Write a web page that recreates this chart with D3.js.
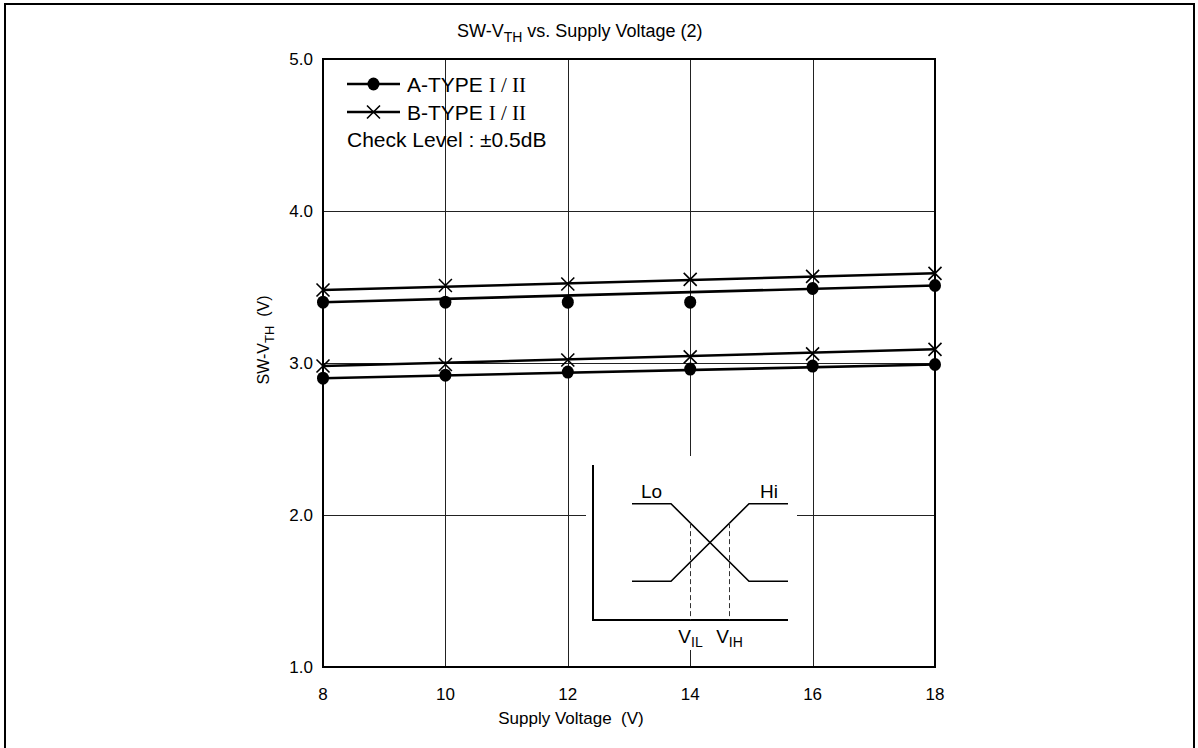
<!DOCTYPE html>
<html>
<head>
<meta charset="utf-8">
<script src="https://cdn.jsdelivr.net/npm/d3@7"></script>
<style>
  body { margin: 0; background: #fff; }
  text { font-family: "Liberation Sans", Arial, sans-serif; fill: #000; }
</style>
</head>
<body>
<div id="chart"></div>
<script>
// supply voltage points (V)
const voltages = [8, 10, 12, 14, 16, 18];

// measured SW-VTH markers (V)
const aTypeHigh = [3.40, 3.40, 3.40, 3.40, 3.49, 3.51];
const aTypeLow = [2.90, 2.92, 2.94, 2.96, 2.98, 2.99];
const bTypeHigh = [3.48, 3.51, 3.52, 3.55, 3.57, 3.59];
const bTypeLow = [2.98, 2.99, 3.02, 3.04, 3.06, 3.09];

// straight trend lines: value at 8 V and at 18 V
const lineEnds = [8, 18];
const aTypeHighLine = [3.40, 3.51];
const aTypeLowLine = [2.90, 2.99];
const bTypeHighLine = [3.48, 3.59];
const bTypeLowLine = [2.98, 3.09];

const xTicks = [8, 10, 12, 14, 16, 18];
const yTicks = [1.0, 2.0, 3.0, 4.0, 5.0];

// inset schematic (unitless 0..10 box)
const insetLo = [[2, 7.5], [4, 7.5], [8, 2.5], [10, 2.5]];
const insetHi = [[2, 2.5], [4, 2.5], [8, 7.5], [10, 7.5]];
const insetMarks = [{ x: 5, top: 6.25, sub: "IL" }, { x: 7, top: 6.25, sub: "IH" }];

const W = 1198, H = 748;
const svg = d3.select("#chart").append("svg")
    .attr("width", W)
    .attr("height", H);

// outer frame (bottom runs off the page)
svg.append("rect")
    .attr("x", 5).attr("y", 4)
    .attr("width", 1189).attr("height", 760)
    .attr("fill", "none")
    .attr("stroke", "#000")
    .attr("stroke-width", 2);

const x = d3.scaleLinear().domain([8, 18]).range([323, 935]);
const y = d3.scaleLinear().domain([1, 5]).range([667, 59]);

// grid
svg.append("g")
    .selectAll("line")
    .data(xTicks.slice(1, -1))
    .join("line")
    .attr("x1", d => Math.round(x(d)) + 0.5)
    .attr("x2", d => Math.round(x(d)) + 0.5)
    .attr("y1", y(5)).attr("y2", y(1))
    .attr("stroke", "#222").attr("stroke-width", 1);

svg.append("g")
    .selectAll("line")
    .data(yTicks.slice(1, -1))
    .join("line")
    .attr("y1", d => Math.round(y(d)) + 0.5)
    .attr("y2", d => Math.round(y(d)) + 0.5)
    .attr("x1", x(8)).attr("x2", x(18))
    .attr("stroke", "#222").attr("stroke-width", 1);

// plot frame
svg.append("rect")
    .attr("x", x(8)).attr("y", y(5))
    .attr("width", x(18) - x(8)).attr("height", y(1) - y(5))
    .attr("fill", "none")
    .attr("stroke", "#000")
    .attr("stroke-width", 2);

// tick labels
svg.append("g")
    .selectAll("text")
    .data(xTicks)
    .join("text")
    .attr("x", d => x(d))
    .attr("y", 700)
    .attr("text-anchor", "middle")
    .attr("font-size", "17px")
    .text(d => d);

svg.append("g")
    .selectAll("text")
    .data(yTicks)
    .join("text")
    .attr("x", 313)
    .attr("y", d => y(d))
    .attr("dy", "0.35em")
    .attr("text-anchor", "end")
    .attr("font-size", "17px")
    .text(d => d3.format(".1f")(d));

// axis titles
svg.append("text")
    .attr("x", 571)
    .attr("y", 724)
    .attr("text-anchor", "middle")
    .attr("font-size", "17px")
    .attr("xml:space", "preserve")
    .text("Supply Voltage  (V)");

const yl = svg.append("text")
    .attr("transform", "translate(269,340) rotate(-90)")
    .attr("text-anchor", "middle")
    .attr("font-size", "16px")
    .attr("xml:space", "preserve");
yl.append("tspan").text("SW-V");
yl.append("tspan").attr("dy", 5).attr("font-size", "13px").text("TH");
yl.append("tspan").attr("dy", -5).text("  (V)");

// title
const tt = svg.append("text")
    .attr("x", 457)
    .attr("y", 37)
    .attr("font-size", "18px");
tt.append("tspan").text("SW-V");
tt.append("tspan").attr("dy", 5).attr("font-size", "14px").text("TH");
tt.append("tspan").attr("dy", -5).text(" vs. Supply Voltage (2)");

// series
const series = [
    { vals: aTypeHigh, line: aTypeHighLine, mark: "dot" },
    { vals: aTypeLow, line: aTypeLowLine, mark: "dot" },
    { vals: bTypeHigh, line: bTypeHighLine, mark: "cross" },
    { vals: bTypeLow, line: bTypeLowLine, mark: "cross" }
];

const line = d3.line().x(d => x(d[0])).y(d => y(d[1]));

function drawMark(g, mark, cx, cy) {
    if (mark === "dot") {
        g.append("ellipse")
            .attr("cx", cx).attr("cy", cy)
            .attr("rx", 6).attr("ry", 6.5)
            .attr("fill", "#000");
    } else {
        const s = 6.5;
        g.append("path")
            .attr("d", `M${cx - s},${cy - s}L${cx + s},${cy + s}M${cx - s},${cy + s}L${cx + s},${cy - s}`)
            .attr("stroke", "#000")
            .attr("stroke-width", 1.6)
            .attr("fill", "none");
    }
}

series.forEach(s => {
    svg.append("path")
        .attr("d", line(lineEnds.map((v, i) => [v, s.line[i]])))
        .attr("fill", "none")
        .attr("stroke", "#000")
        .attr("stroke-width", 2.6);
    const g = svg.append("g");
    voltages.forEach((v, i) => drawMark(g, s.mark, x(v), y(s.vals[i])));
});

// legend
const legend = svg.append("g");
const legendRows = [
    { label: "A-TYPE", mark: "dot", ly: 84 },
    { label: "B-TYPE", mark: "cross", ly: 112 }
];
legendRows.forEach(r => {
    legend.append("line")
        .attr("x1", 347).attr("x2", 400)
        .attr("y1", r.ly).attr("y2", r.ly)
        .attr("stroke", "#000").attr("stroke-width", 2.6);
    drawMark(legend, r.mark, 373.5, r.ly);
    const t = legend.append("text")
        .attr("x", 407)
        .attr("y", r.ly + 8)
        .attr("font-size", "21px");
    t.append("tspan").text(r.label + " ");
    t.append("tspan")
        .style("font-family", "'Liberation Serif', 'Times New Roman', serif")
        .text("I / II");
});
legend.append("text")
    .attr("x", 347)
    .attr("y", 147)
    .attr("font-size", "21px")
    .text("Check Level : \u00b10.5dB");

// inset schematic
const ix = d3.scaleLinear().domain([0, 10]).range([593, 788]);
const iy = d3.scaleLinear().domain([0, 10]).range([620, 465]);
const inset = svg.append("g");

inset.append("rect")
    .attr("x", 586).attr("y", 456)
    .attr("width", 211).attr("height", 194)
    .attr("fill", "#fff");

inset.append("path")
    .attr("d", `M${ix(0)},${iy(10)}V${iy(0)}H${ix(10)}`)
    .attr("fill", "none")
    .attr("stroke", "#000")
    .attr("stroke-width", 2);

const iline = d3.line().x(d => ix(d[0])).y(d => iy(d[1]));
[insetLo, insetHi].forEach(c => {
    inset.append("path")
        .attr("d", iline(c))
        .attr("fill", "none")
        .attr("stroke", "#000")
        .attr("stroke-width", 1.6);
});

insetMarks.forEach(m => {
    inset.append("line")
        .attr("x1", ix(m.x)).attr("x2", ix(m.x))
        .attr("y1", iy(m.top)).attr("y2", iy(0))
        .attr("stroke", "#333")
        .attr("stroke-width", 1)
        .attr("stroke-dasharray", "5,3");
    const t = inset.append("text")
        .attr("x", ix(m.x))
        .attr("y", 643)
        .attr("text-anchor", "middle")
        .attr("font-size", "19px");
    t.append("tspan").text("V");
    t.append("tspan").attr("dy", 4).attr("font-size", "14px").text(m.sub);
});

inset.append("text")
    .attr("x", 641).attr("y", 498)
    .attr("font-size", "19px")
    .text("Lo");
inset.append("text")
    .attr("x", 778).attr("y", 498)
    .attr("text-anchor", "end")
    .attr("font-size", "19px")
    .text("Hi");
</script>
</body>
</html>
